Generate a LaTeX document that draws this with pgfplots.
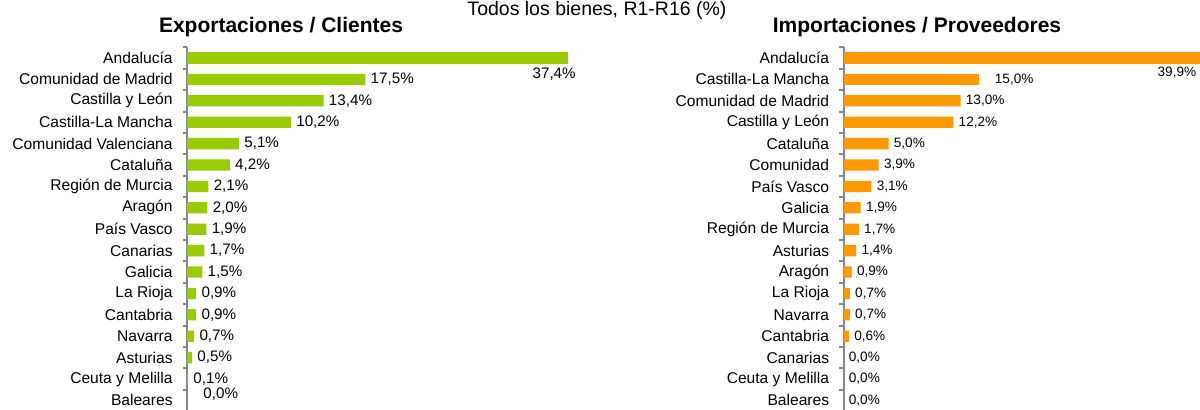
\documentclass[border=0pt]{standalone}
\usepackage{pgfplots}
\pgfplotsset{compat=1.18}
\usepackage{fontspec}
\setmainfont{Liberation Sans}

\definecolor{verde}{HTML}{99CC00}
\definecolor{naranja}{HTML}{FF9900}
\definecolor{eje}{HTML}{868686}

\pgfplotsset{
  panel/.style={
    scale only axis,
    height=181.9pt,
    xmin=0, xmax=40,
    ymin=-0.5, ymax=16.5,
    y dir=reverse,
    hide x axis,
    axis y line*=left,
    axis line style={draw=eje, line width=1pt},
    ytick={0,...,16},
    major tick length=0pt,
    minor ytick={-0.5,0.5,...,16.5},
    minor tick length=2.2pt,
    tick align=outside,
    minor tick style={draw=eje, line width=1pt},
    yticklabel style={font=\fontsize{7.8}{8}\selectfont, inner sep=0pt, xshift=-7pt},
    xbar, bar shift=0pt, bar width=5.65pt,
    point meta=x,
    /pgf/number format/assume math mode=true,
    nodes near coords={\pgfmathprintnumber[fixed,fixed zerofill,precision=1,use comma]{\pgfplotspointmeta}\%},
    clip=false,
  }
}

\begin{document}
\begin{tikzpicture}
\path[use as bounding box] (0,0) rectangle (600pt,204.5pt);
\clip (0,0) rectangle (600pt,204.5pt);

\node[anchor=base, font=\fontsize{9.75}{10}\selectfont] at (298.5pt,197pt) {Todos los bienes, R1-R16 (\%)};
\node[anchor=base, font=\fontsize{10.5}{11}\selectfont\bfseries] at (140.5pt,188.5pt) {Exportaciones / Clientes};
\node[anchor=base, font=\fontsize{10.5}{11}\selectfont\bfseries] at (458.5pt,188.5pt) {Importaciones / Proveedores};

% exportaciones
\begin{axis}[panel,
    at={(93.5pt,-1.05pt)}, anchor=south west,
    width=203.8pt,
    yticklabels={Andalucía, Comunidad de Madrid, Castilla y León, Castilla-La Mancha,
      Comunidad Valenciana, Cataluña, Región de Murcia, Aragón, País Vasco, Canarias,
      Galicia, La Rioja, Cantabria, Navarra, Asturias, Ceuta y Melilla, Baleares},
    every node near coord/.append style={font=\fontsize{7.6}{8}\selectfont, inner sep=1pt, xshift=1.5pt},
]
\addplot[fill=verde, draw=none,
  every node near coord/.append style={anchor=north east, xshift=3.5pt, yshift=-3.5pt}]
  coordinates {(37.4,0)};
\addplot[fill=verde, draw=none] coordinates {
  (17.5,1) (13.4,2) (10.2,3) (5.1,4) (4.2,5) (2.1,6) (2.0,7) (1.9,8)
  (1.7,9) (1.5,10) (0.9,11) (0.9,12) (0.7,13) (0.5,14) (0.1,15)
};
\addplot[fill=verde, draw=none,
  every node near coord/.append style={xshift=5.5pt, yshift=3pt}]
  coordinates {(0.0,16)};
\end{axis}

% importaciones
\begin{axis}[panel,
    at={(421.75pt,-1.05pt)}, anchor=south west,
    width=180pt,
    yticklabels={Andalucía, Castilla-La Mancha, Comunidad de Madrid, Castilla y León,
      Cataluña, Comunidad, País Vasco, Galicia, Región de Murcia, Asturias,
      Aragón, La Rioja, Navarra, Cantabria, Canarias, Ceuta y Melilla, Baleares},
    every node near coord/.append style={font=\fontsize{6.8}{7}\selectfont, inner sep=1pt, xshift=1.5pt},
]
\addplot[fill=naranja, draw=none,
  every node near coord/.append style={anchor=north east, xshift=-3.5pt, yshift=-3.5pt}]
  coordinates {(39.9,0)};
\addplot[fill=naranja, draw=none,
  every node near coord/.append style={xshift=5.5pt}]
  coordinates {(15.0,1)};
\addplot[fill=naranja, draw=none] coordinates {
  (13.0,2) (12.2,3) (5.0,4) (3.9,5) (3.1,6) (1.9,7) (1.7,8)
  (1.4,9) (0.9,10) (0.7,11) (0.7,12) (0.6,13) (0.0,14) (0.0,15) (0.0,16)
};
\end{axis}
\end{tikzpicture}
\end{document}
